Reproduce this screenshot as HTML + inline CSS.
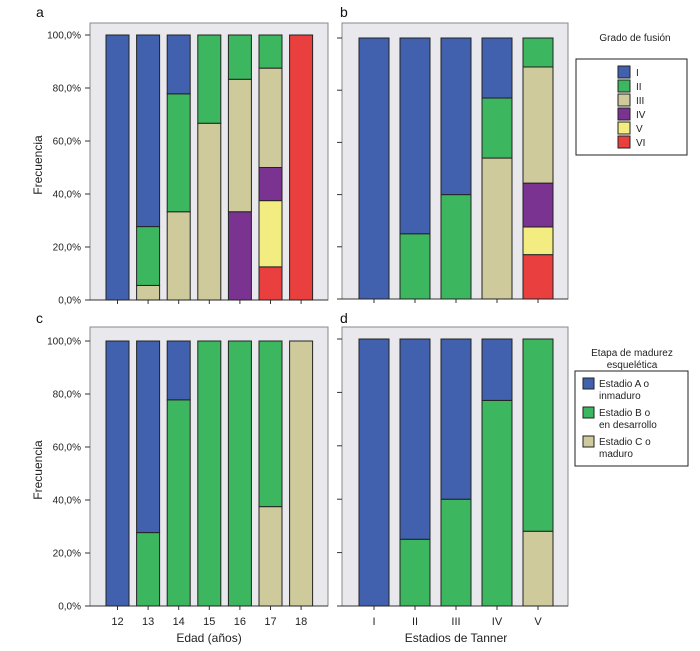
<!DOCTYPE html>
<html><head><meta charset="utf-8">
<style>
html,body{margin:0;padding:0;background:#fff;}
svg{display:block;font-family:"Liberation Sans",sans-serif;}
</style></head>
<body>
<svg id="chart" width="700" height="651" viewBox="0 0 700 651" xmlns="http://www.w3.org/2000/svg"></svg>
<script>
const colors = {I:'#4160ae',II:'#3db660',III:'#cfca9b',IV:'#7a3391',V:'#f3ec80',VI:'#e9403f',A:'#4160ae',B:'#3db660',C:'#cfca9b'};
const gradeKeys = ['VI','V','IV','III','II','I'];
const ageCats = ['12','13','14','15','16','17','18'];
const tannerCats = ['I','II','III','IV','V'];
// panel a: percentages per grade (bottom to top order VI..I)
const aVI = [0,0,0,0,0,12.5,100];
const aV  = [0,0,0,0,0,25,0];
const aIV = [0,0,0,0,33.3,12.5,0];
const aIII= [0,5.5,33.3,66.7,50,37.5,0];
const aII = [0,22.2,44.5,33.3,16.7,12.5,0];
const aI  = [100,72.3,22.2,0,0,0,0];
// panel b
const bVI = [0,0,0,0,17];
const bV  = [0,0,0,0,10.6];
const bIV = [0,0,0,0,16.8];
const bIII= [0,0,0,54,44.5];
const bII = [0,25,40,23,11.1];
const bI  = [100,75,60,23,0];
// panel c: maturity
const cC = [0,0,0,0,0,37.5,100];
const cB = [0,27.7,77.8,100,100,62.5,0];
const cA = [100,72.3,22.2,0,0,0,0];
// panel d
const dC = [0,0,0,0,28];
const dB = [0,25,40,77,72];
const dA = [100,75,60,23,0];
const yTicks = ['0,0%','20,0%','40,0%','60,0%','80,0%','100,0%'];
const yTickVals = [0,20,40,60,80,100];

const svg = document.getElementById('chart');
const NS = 'http://www.w3.org/2000/svg';
function mk(tag, attrs, parent){const e=document.createElementNS(NS,tag);for(const k in attrs)e.setAttribute(k,attrs[k]);(parent||svg).appendChild(e);return e;}
function txt(s, attrs, parent){const e=mk('text',attrs,parent);e.textContent=s;return e;}

function panel(p){
  const g = mk('g',{});
  
  
  const bg = mk('rect',{x:p.x0,y:p.top,width:p.x1-p.x0,height:p.y0-p.top,fill:'#e9e9ed',stroke:'#888','stroke-width':1},g);
  
  
  const ys = v => p.y0 - (p.y0 - p.y100) * v / 100;
  const n = p.cats.length;
  const xs = i => p.c0 + i * p.step;
  // y ticks
  yTickVals.forEach((v,i)=>{
    mk('line',{x1:p.x0-5,x2:p.x0,y1:ys(v),y2:ys(v),stroke:'#333','stroke-width':1},g);
    if(p.labels){
      const t = txt(yTicks[i],{x:p.x0-9,y:ys(v)+3.5,'font-size':10,'text-anchor':'end',fill:'#222'},g);
      
      
    }
  });
  mk('line',{x1:p.x0,x2:p.x1,y1:p.y0,y2:p.y0,stroke:'#333','stroke-width':1},g);
  p.cats.forEach((c,i)=>{
    mk('line',{x1:xs(i),x2:xs(i),y1:p.y0,y2:p.y0+4,stroke:'#333'},g);
    if(p.xlabels){
      const t=txt(c,{x:xs(i),y:p.y0+19,'font-size':11,'text-anchor':'middle',fill:'#222'},g);
      
      
    }
    let cum = 0;
    p.series.forEach(s=>{
      const v = s.vals[i];
      if(v<=0) return;
      const r = mk('rect',{x:xs(i)-p.bw/2,y:ys(cum+v),width:p.bw,height:ys(cum)-ys(cum+v),fill:colors[s.key],stroke:'#222','stroke-width':1},g);
      
      
      cum += v;
    });
  });
}

panel({name:'panel-a',x0:90,x1:328,top:23,y0:300,y100:35,c0:117.5,step:30.6,bw:23,cats:ageCats,labels:true,xlabels:false,
  series:[{key:'VI',vals:aVI},{key:'V',vals:aV},{key:'IV',vals:aIV},{key:'III',vals:aIII},{key:'II',vals:aII},{key:'I',vals:aI}]});
panel({name:'panel-b',x0:342,x1:568,top:23,y0:299,y100:38,c0:374,step:41,bw:30,cats:tannerCats,labels:false,xlabels:false,
  series:[{key:'VI',vals:bVI},{key:'V',vals:bV},{key:'IV',vals:bIV},{key:'III',vals:bIII},{key:'II',vals:bII},{key:'I',vals:bI}]});
panel({name:'panel-c',x0:90,x1:328,top:327,y0:606,y100:341,c0:117.5,step:30.6,bw:23,cats:ageCats,labels:true,xlabels:true,
  series:[{key:'C',vals:cC},{key:'B',vals:cB},{key:'A',vals:cA}]});
panel({name:'panel-d',x0:342,x1:568,top:327,y0:606,y100:339,c0:374,step:41,bw:30,cats:tannerCats,labels:false,xlabels:true,
  series:[{key:'C',vals:dC},{key:'B',vals:dB},{key:'A',vals:dA}]});

// panel letters & axis titles
[['a',36,17],['b',340,17],['c',36,323],['d',340,323]].forEach(l=>{
  const t=txt(l[0],{x:l[1],y:l[2],'font-size':14,fill:'#111'});
  
  
});
[165,470].forEach(cy=>{
  const t=txt('Frecuencia',{x:0,y:0,'font-size':12,'text-anchor':'middle',fill:'#222',transform:'translate(42,'+cy+') rotate(-90)'});
  
  
});
let t1=txt('Edad (años)',{x:209,y:642,'font-size':12,'text-anchor':'middle',fill:'#222'});


let t2=txt('Estadios de Tanner',{x:456,y:642,'font-size':12,'text-anchor':'middle',fill:'#222'});



// legend 1
const lg1 = mk('g',{});


txt('Grado de fusión',{x:635,y:41,'font-size':10,'text-anchor':'middle',fill:'#222'},lg1);
mk('rect',{x:576,y:59,width:111,height:96,fill:'#fff',stroke:'#222'},lg1);
['I','II','III','IV','V','VI'].forEach((k,i)=>{
  const y = 66 + i*14;
  const sw = mk('rect',{x:618,y:y,width:12,height:12,fill:colors[k],stroke:'#222'},lg1);
  
  
  txt(k,{x:636,y:y+10,'font-size':10,fill:'#222'},lg1);
});
// legend 2
const lg2 = mk('g',{});


txt('Etapa de madurez',{x:632,y:356,'font-size':10,'text-anchor':'middle',fill:'#222'},lg2);
txt('esquelética',{x:632,y:368,'font-size':10,'text-anchor':'middle',fill:'#222'},lg2);
mk('rect',{x:575,y:371,width:113,height:95,fill:'#fff',stroke:'#222'},lg2);
[['A','Estadio A o','inmaduro'],['B','Estadio B o','en desarrollo'],['C','Estadio C o','maduro']].forEach((e,i)=>{
  const y = 378 + i*29;
  const sw = mk('rect',{x:583,y:y,width:11,height:11,fill:colors[e[0]],stroke:'#222'},lg2);
  
  
  txt(e[1],{x:599,y:y+9,'font-size':10,fill:'#222'},lg2);
  txt(e[2],{x:599,y:y+21,'font-size':10,fill:'#222'},lg2);
});
</script>
</body></html>
